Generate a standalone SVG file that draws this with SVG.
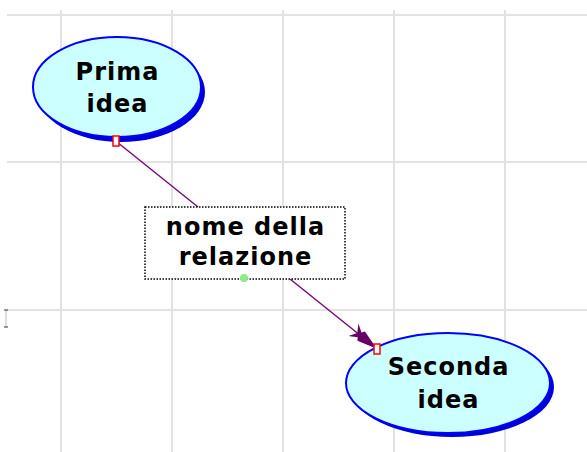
<svg xmlns="http://www.w3.org/2000/svg" width="587" height="452" viewBox="0 0 587 452">
<style>
.grid{stroke:#e2e2e2;stroke-width:2;fill:none}
.shadow{fill:#0000d8}
.node{fill:#ccffff;stroke:#0000ff;stroke-width:2}
.t{font-family:"DejaVu Sans",Verdana,sans-serif;font-weight:bold;font-size:24px;letter-spacing:1px;fill:#000;text-anchor:middle}
.conn{stroke:#7a0a7a;stroke-width:1.5;fill:none}
.port{fill:#fff;stroke:#ff0000;stroke-width:1.5}
</style>
<defs>
<marker id="arr" viewBox="0 0 30 18" refX="29" refY="9" markerWidth="30" markerHeight="18" markerUnits="userSpaceOnUse" orient="auto">
<path d="M0,1 L8,6 L10,3 L30,9 L10,15 L8,12 L0,17 L5,9 Z" fill="#660066"/>
</marker>
</defs>
<rect x="0" y="0" width="587" height="452" fill="#ffffff"/>
<g id="grid">
<path class="grid" d="M7,15 H587 M7,162 H587 M7,310 H587 M61,10 V452 M172,10 V452 M283,10 V452 M394,10 V452 M505,10 V452"/>
<path d="M6,310 V327" stroke="#bbbbbb" stroke-width="1"/>
<path d="M4,310 H8 M4,327 H8" stroke="#333333" stroke-width="1"/>
</g>
<g id="connectors">
<line class="conn" x1="117" y1="142" x2="198" y2="207"/>
<line class="conn" x1="290" y1="279" x2="376" y2="348" marker-end="url(#arr)"/>
</g>
<g id="node-prima">
<ellipse class="shadow" cx="121" cy="92" rx="84" ry="50"/>
<ellipse class="node" cx="117" cy="87" rx="84" ry="50"/>
<text class="t" x="117.5" y="80">Prima</text>
<text class="t" x="117.5" y="112">idea</text>
<rect class="port" x="113" y="136" width="6" height="10"/>
</g>
<g id="node-relazione">
<rect x="145" y="207" width="200" height="72" fill="#ffffff" stroke="#000" stroke-width="1.5" stroke-dasharray="1.5,1.5"/>
<text class="t" x="245.5" y="235">nome della</text>
<text class="t" x="245.5" y="265">relazione</text>
<circle cx="244" cy="278" r="4" fill="#88ee88"/>
</g>
<g id="node-seconda">
<ellipse class="shadow" cx="452" cy="387" rx="102" ry="50"/>
<ellipse class="node" cx="448" cy="383" rx="102" ry="50"/>
<text class="t" x="448.5" y="375">Seconda</text>
<text class="t" x="448.5" y="408">idea</text>
<rect class="port" x="374" y="344" width="6" height="10"/>
</g>
</svg>
